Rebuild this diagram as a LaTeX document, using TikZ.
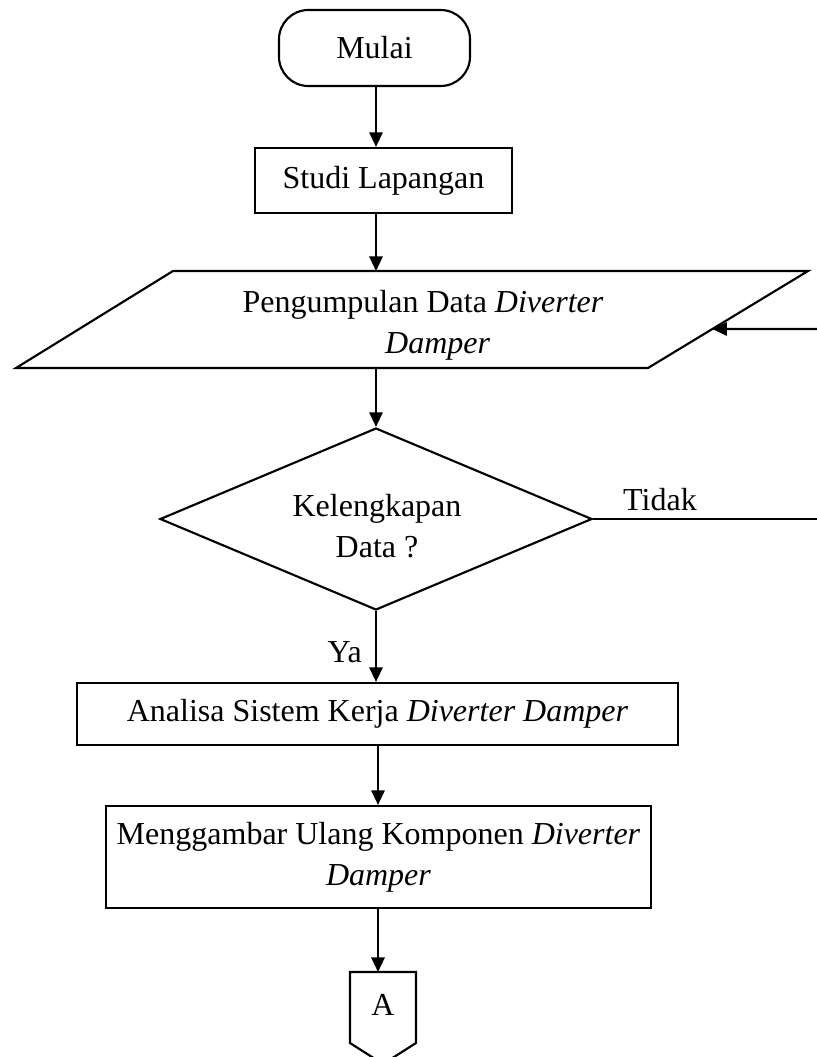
\documentclass[tikz,border=0pt]{standalone}
\usepackage{fontspec}
\setmainfont{Liberation Serif}
\usetikzlibrary{arrows.meta,shapes.geometric,calc}

\tikzset{
  flow/.style={line width=1.6pt},
  arrowline/.style={flow,-{Triangle[length=11pt,width=10pt]}},
  thinline/.style={line width=1.1pt},
  boxnode/.style={draw,flow,rectangle,inner sep=0pt,align=center},
  terminal/.style={boxnode,rounded corners=22pt},
  decision/.style={draw,flow,diamond,inner sep=0pt,aspect=2.4},
  label/.style={inner sep=0pt,align=center}
}

\begin{document}
\begin{tikzpicture}[x=0.75pt,y=-0.75pt,font=\fontsize{24}{31}\selectfont]
\useasboundingbox (0,0) rectangle (817,1057);
\clip (0,0) rectangle (817,1057);

% start terminal
\node[terminal,minimum width=143.25pt,minimum height=57pt] (mulai) at (374.5,48) {Mulai};

% process box
\node[boxnode,minimum width=192.75pt,minimum height=48.75pt] (studi) at (383.5,180.5) {Studi Lapangan};

% data input (parallelogram)
\coordinate (ptl) at (173,271);
\coordinate (ptr) at (808,271);
\coordinate (pbr) at (648,368);
\coordinate (pbl) at (16,368);
\draw[flow,line join=miter] (ptl) -- (ptr) -- (pbr) -- (pbl) -- cycle;
\node[label] (data) at (423,325) {Pengumpulan Data \textit{Diverter}\\\hspace*{22pt}\textit{Damper}};
\coordinate (ptop) at (376,271);
\coordinate (pbot) at (376,368);
\coordinate (pin) at ($(ptr)!0.598!(pbr)$);

% decision
\node[decision,minimum width=324pt,minimum height=136.5pt] (cek) at (376,519) {};
\node[label] (cektext) at (377,526) {Kelengkapan\\Data ?};

\node[boxnode,minimum width=450.75pt,minimum height=46.5pt] (analisa) at (377.5,714)
  {Analisa Sistem Kerja \textit{Diverter Damper}};

\node[boxnode,minimum width=408.75pt,minimum height=76.5pt] (gambar) at (378.5,857)
  {Menggambar Ulang Komponen \textit{Diverter}\\\textit{Damper}};

% off-page connector
\coordinate (otl) at (350,972);
\coordinate (otr) at (416,972);
\coordinate (obr) at (416,1043);
\coordinate (obl) at (350,1043);
\coordinate (otip) at (383,1064);
\draw[flow,line join=miter] (otl) -- (otr) -- (obr) -- (otip) -- (obl) -- cycle;
\node[label] (konektor) at (383,1005) {A};
\coordinate (otop) at (378,972);

% main flow
\draw[arrowline] (ptop |- mulai.south) -- (ptop |- studi.north);
\draw[arrowline] (ptop |- studi.south) -- (ptop);
\draw[arrowline] (pbot) -- (cek.north);
\draw[arrowline] (cek.south) -- (cek.south |- analisa.north);
\draw[arrowline] (otop |- analisa.south) -- (otop |- gambar.north);
\draw[arrowline] (otop |- gambar.south) -- (otop);

% branch labels
\node[label,anchor=east] (ya) at (362,652) {Ya};
\node[label] (tidak) at (660,500) {Tidak};

% return path of the "Tidak" branch
\coordinate (tend) at (817,519);
\coordinate (rin) at (817,329);
\draw[thinline] (cek.east) -- (tend);
\draw[arrowline] (rin) -- (pin);
\end{tikzpicture}
\end{document}
